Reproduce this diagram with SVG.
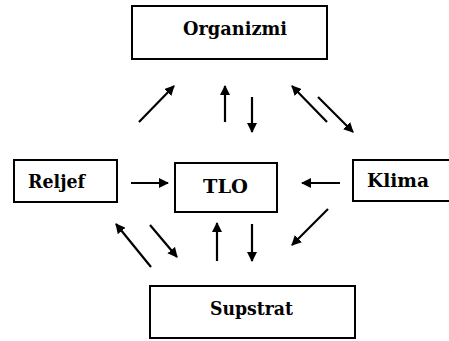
<svg xmlns="http://www.w3.org/2000/svg" width="449" height="341" viewBox="0 0 449 341">
<defs>
<marker id="ah" markerWidth="10" markerHeight="10" refX="9" refY="5" orient="auto" markerUnits="userSpaceOnUse">
<path d="M0,0 L10,5 L0,10 Z" fill="#000"/>
</marker>
<style>
.box{fill:#fff;stroke:#000;stroke-width:2}
.lbl{font-family:"DejaVu Serif","Liberation Serif",serif;font-weight:bold;font-size:19px;fill:#000;text-anchor:middle}
.c{stroke:#000;stroke-width:2.2;fill:none;marker-end:url(#ah)}
</style>
</defs>
<rect width="449" height="341" fill="#fff"/>
<g id="organizmi"><rect class="box" x="132" y="6" width="195" height="53"/><text class="lbl" x="235" y="35" textLength="104" lengthAdjust="spacingAndGlyphs">Organizmi</text></g>
<g id="reljef"><rect class="box" x="14" y="160" width="103" height="42"/><text class="lbl" x="56.5" y="188" textLength="57" lengthAdjust="spacingAndGlyphs">Reljef</text></g>
<g id="tlo"><rect class="box" x="175" y="163" width="102" height="49"/><text class="lbl" x="225.5" y="193" textLength="45" lengthAdjust="spacingAndGlyphs">TLO</text></g>
<g id="klima"><rect class="box" x="353" y="160" width="100" height="41"/><text class="lbl" x="398" y="187" textLength="62" lengthAdjust="spacingAndGlyphs">Klima</text></g>
<g id="supstrat"><rect class="box" x="150" y="286" width="205" height="52"/><text class="lbl" x="251.5" y="315" textLength="83" lengthAdjust="spacingAndGlyphs">Supstrat</text></g>
<g id="connectors">
<line class="c" x1="139" y1="122" x2="174" y2="86"/>
<line class="c" x1="225" y1="122" x2="225" y2="86"/>
<line class="c" x1="252" y1="97" x2="252" y2="132"/>
<line class="c" x1="327" y1="122" x2="292" y2="86"/>
<line class="c" x1="318" y1="97" x2="353" y2="132"/>
<line class="c" x1="131" y1="183" x2="168" y2="183"/>
<line class="c" x1="340" y1="183" x2="302" y2="183"/>
<line class="c" x1="151" y1="267" x2="116" y2="224"/>
<line class="c" x1="150" y1="225" x2="177" y2="257"/>
<line class="c" x1="217" y1="261" x2="217" y2="223"/>
<line class="c" x1="252" y1="224" x2="252" y2="261"/>
<line class="c" x1="328" y1="209" x2="292" y2="245"/>
</g>
</svg>
